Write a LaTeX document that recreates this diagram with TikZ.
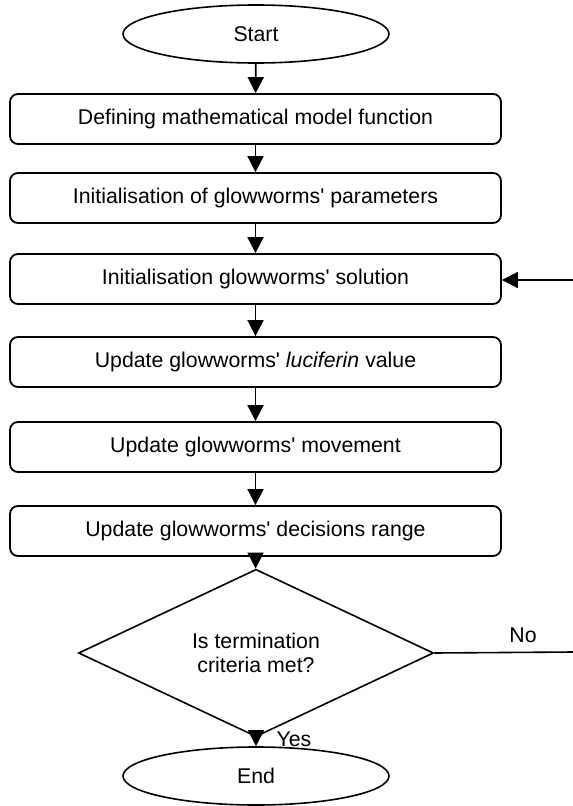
\documentclass[tikz,border=0pt]{standalone}
\usepackage{fontspec}
\setmainfont{Liberation Sans}
\usetikzlibrary{shapes.geometric,arrows.meta}
\newcommand{\ap}{\textquotesingle}
\begin{document}
\begin{tikzpicture}[x=1pt,y=-1pt,
  every node/.style={font=\fontsize{21.3}{24}\selectfont},
  term/.style={draw, line width=1.6pt, ellipse, minimum width=266pt, minimum height=58pt, inner sep=0pt},
  proc/.style={draw, line width=1.8pt, rectangle, rounded corners=8pt, minimum width=491pt, minimum height=50pt, inner sep=0pt},
  dec/.style={draw, line width=1.6pt, diamond, minimum width=355pt, minimum height=128pt, inner sep=0pt, align=center},
  flow/.style={line width=1.8pt, -{Triangle[length=16pt,width=16pt]}},
  plain/.style={inner sep=0pt}
]
\useasboundingbox (0,0) rectangle (573,806);
\node[term] (start) at (256,34) {Start};
\node[proc] (b1) at (255.5,119) {Defining mathematical model function};
\node[proc] (b2) at (255.5,198) {Initialisation of glowworms\ap{} parameters};
\node[proc] (b3) at (255.5,279) {Initialisation glowworms\ap{} solution};
\node[proc] (b4) at (255.5,362) {Update glowworms\ap{} \textit{luciferin} value};
\node[proc] (b5) at (255.5,447) {Update glowworms\ap{} movement};
\node[proc] (b6) at (255.5,531) {Update glowworms\ap{} decisions range};
\node[dec] (dia) at (256,653) {Is termination\\criteria met?};
\node[term] (end) at (256,776) {End};
\coordinate (r1) at (573,280);
\coordinate (r2) at (573,652);
\node[plain] (no) at (523,635) {No};
\node[plain] (yes) at (294,739) {Yes};
\draw[flow] (start) -- (b1);
\draw[flow] (b1) -- (b2);
\draw[flow] (b2) -- (b3);
\draw[flow] (b3) -- (b4);
\draw[flow] (b4) -- (b5);
\draw[flow] (b5) -- (b6);
\draw[flow] (b6) -- (dia);
\draw[flow] (dia) -- (end);
\draw[flow] (r1) -- (r1 -| b3.east);
\draw[line width=1.6pt] (dia.east) -- (r2);
\end{tikzpicture}
\end{document}
